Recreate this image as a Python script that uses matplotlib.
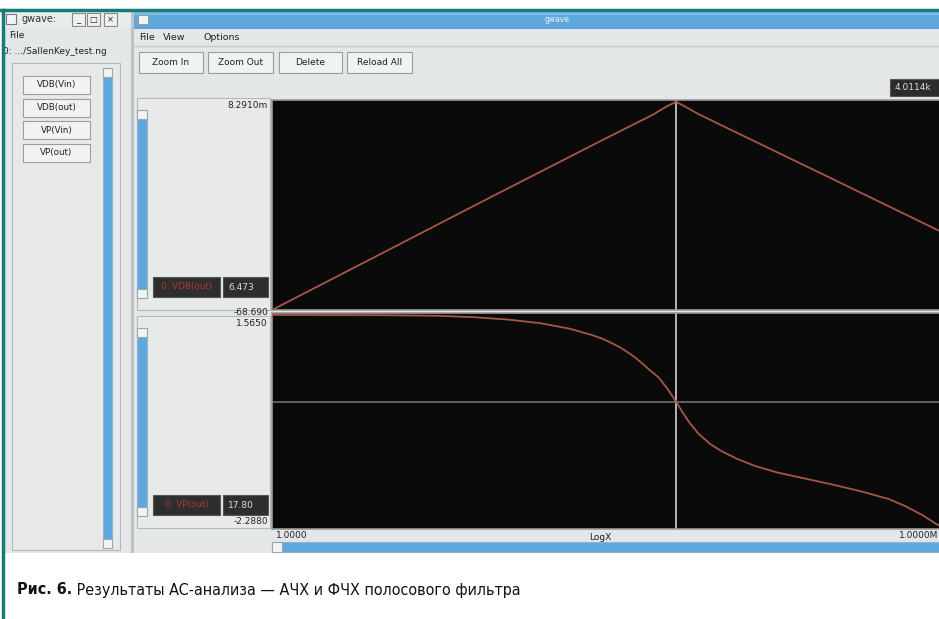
import numpy as np
import matplotlib
matplotlib.use("Agg")
import matplotlib.pyplot as plt
from matplotlib.patches import Rectangle

# --- data ---
mag_freq = [1, 10, 100, 1000, 2500, 3300, 4011.4, 4900, 6300, 10000, 100000, 1000000]
mag_db = [-68.69, -49.6, -30.5, -11.6, -4.2, -1.5, 0.0083, -1.7, -4.0, -7.6, -25.5, -43.5]

ph_freq = [1, 10, 30, 63, 130, 250, 450, 710, 890, 1050, 1260, 1480, 1740, 1995,
           2239, 2818, 3388, 4011.4, 4571, 5248, 6310, 7943, 10000, 14125, 19953,
           31623, 56234, 100000, 177828, 316228, 446684, 630957, 794328, 1000000]
ph_rad = [1.560, 1.555, 1.545, 1.52, 1.475, 1.41, 1.313, 1.20, 1.13, 1.061, 0.98,
          0.89, 0.79, 0.69, 0.60, 0.43, 0.22, 0.0, -0.19, -0.37, -0.57, -0.75,
          -0.88, -1.03, -1.15, -1.27, -1.38, -1.49, -1.61, -1.75, -1.88, -2.04,
          -2.17, -2.288]

signal_buttons = ["VDB(Vin)", "VDB(out)", "VP(Vin)", "VP(out)"]
toolbar_buttons = ["Zoom In", "Zoom Out", "Delete", "Reload All"]
menu_items = ["File", "View", "Options"]

top_range = ("8.2910m", "-68.690")
bot_range = ("1.5650", "-2.2880")
top_label, top_value = "0: VDB(out)", "6.473"
bot_label, bot_value = "0: VP(out)", "17.80"
cursor_freq = 4011.4
cursor_text = "4.0114k"
caption_bold = "Рис. 6."
caption_rest = " Результаты AC-анализа — АЧХ и ФЧХ полосового фильтра"

W, H = 939, 619
GUI_BG = "#e4e7e7"
BLUE = "#5ea8de"
TEAL = "#177b78"
CURVE = "#a65646"

fig = plt.figure(figsize=(W / 100, H / 100), dpi=100)
fig.patch.set_facecolor("white")

bg = fig.add_axes([0, 0, 1, 1])
bg.set_xlim(0, W)
bg.set_ylim(H, 0)
bg.axis("off")


def box(x0, y0, x1, y1, fc, ec="none", lw=0.8, z=1):
    bg.add_patch(Rectangle((x0, y0), x1 - x0, y1 - y0, facecolor=fc,
                           edgecolor=ec, linewidth=lw, zorder=z))


def txt(x, y, s, size=6.5, color="#222222", ha="left", weight="normal", z=5, **kw):
    bg.text(x, y, s, fontsize=size, color=color, ha=ha, va="center",
            fontweight=weight, zorder=z, **kw)


def scrollbar_v(x0, y0, x1, y1):
    box(x0, y0, x1, y1, BLUE, ec="#8fb4cf", z=2)
    box(x0, y0, x1, y0 + 9, "#f2f4f4", ec="#9aa", z=3)
    box(x0, y1 - 9, x1, y1, "#f2f4f4", ec="#9aa", z=3)


def px_axes(x0, y0, x1, y1):
    return fig.add_axes([x0 / W, 1 - y1 / H, (x1 - x0) / W, (y1 - y0) / H])


# teal frame
bg.plot([0, W], [10, 10], color=TEAL, lw=2.5, zorder=10)
bg.plot([3, 3], [10, H], color=TEAL, lw=2.5, zorder=10)

# ---- left window ----
box(4, 11, 131, 553, GUI_BG)
box(4, 11, 131, 28, "#e9ecec")
box(6, 14, 16, 24, "#f5f5f5", ec="#777")
txt(21, 19.5, "gwave:", size=7, color="#333")
for xa, s in zip([72, 87, 104], ["_", "□", "×"]):
    box(xa, 13, xa + 13, 26, "#f0f0f0", ec="#888")
    txt(xa + 6.5, 19.5, s, size=6, ha="center")
txt(9, 35, "File", size=6.5)
txt(3, 51, "0: .../SallenKey_test.ng", size=6.5)
box(12, 63, 120, 550, "#e7e9e9", ec="#b5b8b8")
scrollbar_v(103, 68, 112, 548)
for i, s in enumerate(signal_buttons):
    y0 = 76 + i * 22.5
    box(23, y0, 90, y0 + 18, "#f1f2f2", ec="#9a9d9d")
    txt(56.5, y0 + 9, s, size=6.3, ha="center")

# ---- main window ----
box(131, 11, 134, 553, "#bfc3c3")
box(134, 11, W, 553, GUI_BG)
box(134, 11, W, 29, BLUE)
box(134, 11, W, 15, "#7dbce8")
box(138, 15, 148, 24, "#f4f4f4", ec="#999")
txt(545, 20, "gwave", size=5.5, color="#eef6fb")
for i, s in enumerate(menu_items):
    txt([139, 163, 204][i], 37, s, size=6.8)
bg.plot([134, W], [46, 46], color="#c4c8c8", lw=1, zorder=3)
for (x0, x1), s in zip([(139, 203), (208, 273), (279, 342), (347, 412)], toolbar_buttons):
    box(x0, 52, x1, 73, "#f1f2f2", ec="#9a9d9d")
    txt((x0 + x1) / 2, 62.5, s, size=6.5, ha="center")

# cursor readout
box(890, 79, 945, 96, "#2b2b2b", ec="#555")
txt(895, 87.5, cursor_text, size=6.5, color="#dddddd")

# label panels
for (py0, py1), (rmax, rmin), (lab, val) in zip(
        [(98, 310), (316, 528)], [top_range, bot_range],
        [(top_label, top_value), (bot_label, bot_value)]):
    box(137, py0, 270, py1, "#e8eaea", ec="#b5b8b8")
    scrollbar_v(137, py0 + 12, 147, py1 - 12)
    box(153, py1 - 33, 220, py1 - 13, "#2e2e2e", ec="#555", z=3)
    txt(186.5, py1 - 23, lab, size=6.3, color="#b0392e", ha="center")
    box(223, py1 - 33, 268, py1 - 13, "#2e2e2e", ec="#555", z=3)
    txt(228, py1 - 23, val, size=6.5, color="#dddddd")
txt(268, 106, top_range[0], size=6.5, ha="right")
txt(268, 312.5, top_range[1], size=6.5, ha="right")
txt(268, 323, bot_range[0], size=6.5, ha="right")
txt(268, 522, bot_range[1], size=6.5, ha="right")

# x axis labels + scrollbar
txt(276, 536, "1.0000", size=6.5)
txt(600, 537, "LogX", size=6.5, ha="center")
txt(899, 536, "1.0000M", size=6.5)
box(272, 542, W, 552, BLUE, ec="#8fb4cf", z=2)
box(272, 542, 282, 552, "#f2f4f4", ec="#9aa", z=3)

# caption
fig.canvas.draw()
t1 = bg.text(17, 590, caption_bold, fontsize=11.5, fontweight="bold", color="#111",
             va="center", fontstretch="condensed", zorder=5)
bb = t1.get_window_extent(renderer=fig.canvas.get_renderer())
bg.text(17 + bb.width, 590, caption_rest, fontsize=11.5, color="#111",
        va="center", fontstretch="condensed", zorder=5)

# ---- plots ----
ax_top = px_axes(272, 100, 945, 310)
ax_bot = px_axes(272, 313, 945, 529)
for ax in (ax_top, ax_bot):
    ax.set_facecolor("#0a0a0a")
    ax.set_xscale("log")
    ax.set_xlim(1, 1e6)
    ax.set_xticks([])
    ax.set_yticks([])
    ax.minorticks_off()
    for sp in ax.spines.values():
        sp.set_color("#9a9a9a")
        sp.set_linewidth(1.2)
    ax.axvline(cursor_freq, color="#c4c4c4", lw=1.3, zorder=1)

ax_top.plot(mag_freq, mag_db, color=CURVE, lw=1.3, zorder=3)
ax_top.set_ylim(-68.69, 0.0083 + 0.6)

ax_bot.axhline(0, color="#6e6e6e", lw=1.2, zorder=1)
ax_bot.plot(ph_freq, ph_rad, color=CURVE, lw=1.3, zorder=3)
ax_bot.set_ylim(-2.288, 1.565 + 0.03)

fig.savefig("out.png", dpi=100)
